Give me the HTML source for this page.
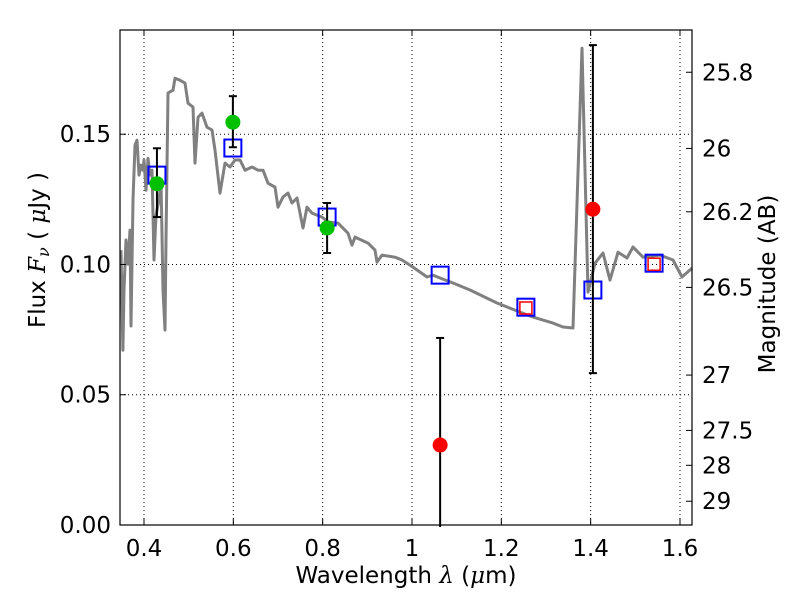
<!DOCTYPE html>
<html><head><meta charset="utf-8"><style>
body{margin:0;background:#fff;}
svg{font-family:"DejaVu Sans","Liberation Sans",sans-serif;}
</style></head><body>
<svg id="chart" width="800" height="600" xmlns="http://www.w3.org/2000/svg">
<rect width="800" height="600" fill="#fff"/>
<g id="grid"></g>
<g id="spec"></g>
<g id="marks"></g>
<rect x="120" y="30" width="572" height="495" fill="none" stroke="#000" stroke-width="1.2"/>
<g id="axes"></g>
<text x="406" y="583" font-size="23" text-anchor="middle">Wavelength  <tspan font-style="italic" font-family="DejaVu Serif,serif">λ</tspan> (<tspan font-style="italic" font-family="DejaVu Serif,serif">μ</tspan>m)</text>
<text transform="translate(45,250) rotate(-90)" font-size="23" text-anchor="middle">Flux  <tspan font-style="italic" font-family="DejaVu Serif,serif">F<tspan font-size="16" dy="4">ν</tspan></tspan><tspan dy="-4">  (  </tspan><tspan font-style="italic" font-family="DejaVu Serif,serif">μ</tspan>Jy )</text>
<text transform="translate(775,284) rotate(-90)" font-size="23" text-anchor="middle">Magnitude (AB)</text>
</svg>
<script>
const specWl=[0.3485,0.3529,0.3552,0.3597,0.3642,0.3687,0.3709,0.3754,0.3799,0.3843,0.3888,0.3933,0.3978,0.4,0.4045,0.409,0.4134,0.4179,0.4224,0.4269,0.4336,0.4381,0.4425,0.447,0.4493,0.4537,0.4649,0.4694,0.4806,0.4918,0.4985,0.5097,0.5142,0.5209,0.5299,0.5411,0.5523,0.559,0.5702,0.5814,0.5926,0.6037,0.6149,0.6261,0.6418,0.6552,0.6664,0.6776,0.6933,0.7,0.7112,0.7224,0.7314,0.7426,0.756,0.765,0.7761,0.7985,0.812,0.8344,0.8567,0.8657,0.8724,0.9015,0.9172,0.9217,0.9329,0.962,0.9776,1.0023,1.0336,1.047,1.0627,1.0918,1.1299,1.1903,1.2418,1.2709,1.3157,1.3381,1.3605,1.3807,1.3941,1.4098,1.4277,1.4433,1.4613,1.4814,1.4949,1.5173,1.5553,1.5844,1.6045,1.6269];
const specFlux=[0.1055,0.0671,0.0902,0.1094,0.1001,0.1132,0.0764,0.1247,0.1458,0.1477,0.1343,0.1381,0.1362,0.1401,0.1285,0.1408,0.1343,0.1362,0.1017,0.1189,0.1247,0.1324,0.0902,0.0748,0.1094,0.1658,0.1669,0.1715,0.1707,0.1696,0.1619,0.1604,0.1389,0.1565,0.1581,0.1527,0.1516,0.1439,0.1274,0.1389,0.1374,0.1401,0.1401,0.1362,0.1374,0.1362,0.1362,0.1312,0.1297,0.122,0.1259,0.1274,0.1236,0.1255,0.114,0.122,0.1197,0.1182,0.1163,0.1159,0.112,0.1074,0.1105,0.1082,0.1055,0.1009,0.1036,0.1028,0.1017,0.099,0.0952,0.0959,0.0948,0.0929,0.0902,0.0852,0.0817,0.0798,0.0775,0.076,0.0756,0.183,0.0894,0.1005,0.1044,0.094,0.1047,0.1025,0.1067,0.1028,0.1036,0.1017,0.0952,0.0986];
const greenWl=[0.429,0.599,0.810];
const greenFlux=[0.131,0.1546,0.114];
const greenLo=[0.1182,0.1450,0.1044];
const greenHi=[0.1446,0.1646,0.1236];
const redWl=[1.063,1.405];
const redFlux=[0.0307,0.1212];
const redLo=[-0.01,0.0583];
const redHi=[0.0718,0.1842];
const blueWl=[0.429,0.599,0.810,1.063,1.255,1.405,1.542];
const blueFlux=[0.1343,0.1447,0.1182,0.0959,0.0836,0.0902,0.1005];
const redSqWl=[1.255,1.542];
const redSqFlux=[0.0833,0.1001];
const xTicks=[0.4,0.6,0.8,1.0,1.2,1.4,1.6];
const xTickLabels=["0.4","0.6","0.8","1","1.2","1.4","1.6"];
const yTicks=[0,0.05,0.10,0.15];
const yTickLabels=["0.00","0.05","0.10","0.15"];
const magTicks=[25.8,26,26.2,26.5,27,27.5,28,29];
const magLabels=["25.8","26","26.2","26.5","27","27.5","28","29"];

const X0=120,X1=692,Y0=525,Y1=30;
const xmin=0.3463,xmax=1.6269,ymin=0,ymax=0.19;
function sx(v){return X0+(v-xmin)/(xmax-xmin)*(X1-X0);}
function sy(v){return Y0-(v-ymin)/(ymax-ymin)*(Y0-Y1);}
const NS="http://www.w3.org/2000/svg";
function mk(tag,attrs,parent){const e=document.createElementNS(NS,tag);for(const k in attrs)e.setAttribute(k,attrs[k]);parent.appendChild(e);return e;}
const grid=document.getElementById('grid'),axes=document.getElementById('axes'),spec=document.getElementById('spec'),marks=document.getElementById('marks');

xTicks.forEach((t,i)=>{const x=sx(t);
 const g=mk('line',{x1:x,x2:x,y1:Y1,y2:Y0,stroke:'#000','stroke-width':1,'stroke-dasharray':'1,3'},grid);
 
 
 mk('line',{x1:x,x2:x,y1:Y0,y2:Y0-6,stroke:'#000'},axes);
 mk('line',{x1:x,x2:x,y1:Y1,y2:Y1+6,stroke:'#000'},axes);
 const tx=mk('text',{x:x,y:556,'font-size':23,'text-anchor':'middle'},axes);tx.textContent=xTickLabels[i];
 
 
});
yTicks.forEach((t,i)=>{const y=sy(t);
 const g=mk('line',{x1:X0,x2:X1,y1:y,y2:y,stroke:'#000','stroke-width':1,'stroke-dasharray':'1,3'},grid);
 
 
 mk('line',{x1:X0,x2:X0+6,y1:y,y2:y,stroke:'#000'},axes);
 const tx=mk('text',{x:111,y:y+8,'font-size':23,'text-anchor':'end'},axes);tx.textContent=yTickLabels[i];
 
 
});
magTicks.forEach((m,i)=>{const f=Math.pow(10,(23.9-m)/2.5);const y=sy(f);
 mk('line',{x1:X1,x2:X1-6,y1:y,y2:y,stroke:'#000'},axes);
 const tx=mk('text',{x:702,y:y+8,'font-size':23},axes);tx.textContent=magLabels[i];
 
 
});

const pts=specWl.map((w,i)=>sx(w).toFixed(1)+','+sy(specFlux[i]).toFixed(1)).join(' ');
const pl=mk('polyline',{points:pts,fill:'none',stroke:'#808080','stroke-width':3,'stroke-linejoin':'round'},spec);



function errbar(w,lo,hi){const x=sx(w),a=sy(Math.max(lo,-0.01)),b=sy(hi);
 mk('line',{x1:x,x2:x,y1:Math.min(a,Y0+2),y2:b,stroke:'#000','stroke-width':2},marks);
 mk('line',{x1:x-4,x2:x+4,y1:b,y2:b,stroke:'#000','stroke-width':2},marks);
 if(lo>0)mk('line',{x1:x-4,x2:x+4,y1:a,y2:a,stroke:'#000','stroke-width':2},marks);
}
blueWl.forEach((w,i)=>{const r=mk('rect',{x:sx(w)-8.5,y:sy(blueFlux[i])-8.5,width:17,height:17,fill:'none',stroke:'#0000ff','stroke-width':2},marks);
 
 
});
redSqWl.forEach((w,i)=>{const r=mk('rect',{x:sx(w)-6,y:sy(redSqFlux[i])-6,width:12,height:12,fill:'none',stroke:'#ff0000','stroke-width':1.5},marks);
 
 
});
greenWl.forEach((w,i)=>{errbar(w,greenLo[i],greenHi[i]);
 const c=mk('circle',{cx:sx(w),cy:sy(greenFlux[i]),r:7.5,fill:'#00c000'},marks);
 
 
});
redWl.forEach((w,i)=>{errbar(w,redLo[i],redHi[i]);
 const c=mk('circle',{cx:sx(w),cy:sy(redFlux[i]),r:7.5,fill:'#ff0000'},marks);
 
 
});
</script>
</body></html>
